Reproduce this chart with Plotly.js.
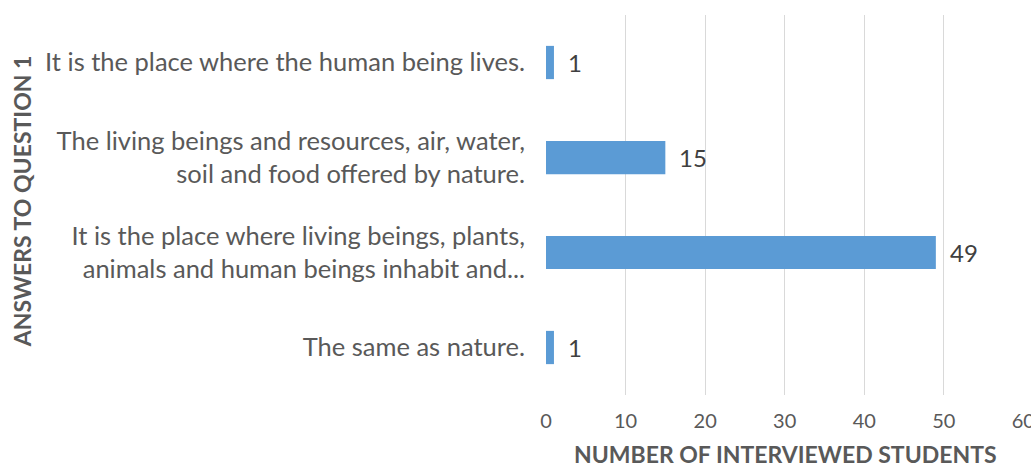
<!DOCTYPE html>
<html><head><meta charset="utf-8">
<script src="https://cdn.plot.ly/plotly-3.0.1.min.js"></script>
<style>html,body{margin:0;padding:0;background:#fff;}#chart{width:1031px;height:466px;}</style>
</head><body><div id="chart"></div>
<script>
var categories = [
  "It is the place where the human being lives.",
  "The living beings and resources, air, water,<br>soil and food offered by nature.",
  "It is the place where living beings, plants,<br>animals and human beings inhabit and...",
  "The same as nature."
];
var values = [1, 15, 49, 1];
var xTicks = [0, 10, 20, 30, 40, 50, 60];
var xTitle = "NUMBER OF INTERVIEWED STUDENTS";
var yTitle = "ANSWERS TO QUESTION 1";

var fontFam = "Lato, 'Open Sans', sans-serif";
var trace = {
  type: 'bar', orientation: 'h',
  x: values, y: categories,
  width: 0.35,
  marker: {color: '#5B9BD5'},
  hoverinfo: 'none'
};
var ann = values.map(function(v, i){
  return {x: v, y: categories[i], xref: 'x', yref: 'y', text: String(v),
    showarrow: false, xanchor: 'left', xshift: 12,
    font: {family: fontFam, size: 24, color: '#404040'}};
});
ann.push({text: yTitle, xref: 'paper', yref: 'paper', x: -1.096, y: 0.51,
  textangle: -90, showarrow: false, xanchor: 'center', yanchor: 'middle',
  font: {family: fontFam, size: 23, color: '#595959', weight: 'bold'}});
ann.push({text: xTitle, xref: 'paper', yref: 'paper', x: 0.5, y: -0.155,
  showarrow: false, xanchor: 'center', yanchor: 'middle',
  font: {family: fontFam, size: 23, color: '#595959', weight: 'bold'}});

var layout = {
  width: 1031, height: 466,
  margin: {l: 546, r: 7, t: 15, b: 71},
  paper_bgcolor: '#fff', plot_bgcolor: '#fff',
  showlegend: false,
  xaxis: {range: [0, 60.08], tickvals: xTicks, ticktext: xTicks.map(String),
    showgrid: true, gridcolor: '#d9d9d9', gridwidth: 1, zeroline: false,
    showline: false, ticks: '', ticklen: 0, ticklabeloverflow: 'allow',
    ticklabelstandoff: 12,
    tickfont: {family: fontFam, size: 20, color: '#595959'}, fixedrange: true},
  yaxis: {autorange: 'reversed', showgrid: false, zeroline: false,
    showline: false, ticks: '', ticklabelstandoff: 20,
    tickfont: {family: fontFam, size: 25.5, color: '#595959'}, automargin: false},
  annotations: ann
};
Plotly.newPlot('chart', [trace], layout, {staticPlot: true, displayModeBar: false});
</script></body></html>
